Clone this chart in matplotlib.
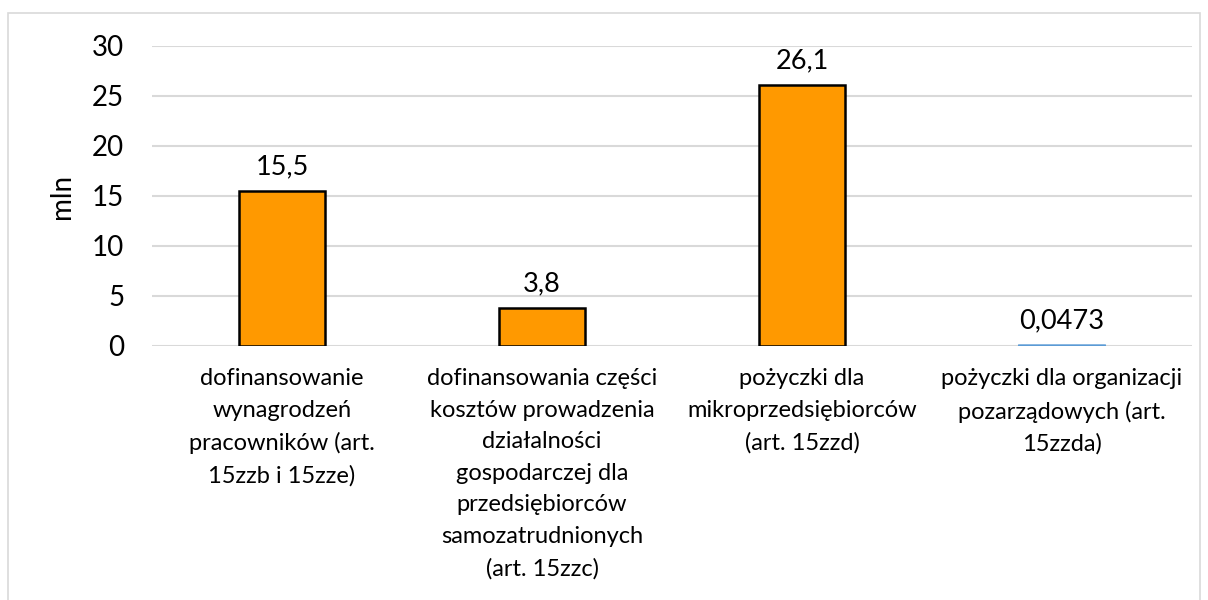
import matplotlib.pyplot as plt
from matplotlib.patches import Rectangle

plt.rcParams['font.family'] = ['Lato', 'DejaVu Sans']

# --- data ---
categories = [
    "dofinansowanie\nwynagrodzeń\npracowników (art.\n15zzb i 15zze)",
    "dofinansowania części\nkosztów prowadzenia\ndziałalności\ngospodarczej dla\nprzedsiębiorców\nsamozatrudnionych\n(art. 15zzc)",
    "pożyczki dla\nmikroprzedsiębiorców\n(art. 15zzd)",
    "pożyczki dla organizacji\npozarządowych (art.\n15zzda)",
]
values = [15.5, 3.8, 26.1, 0.0473]
value_labels = ["15,5", "3,8", "26,1", "0,0473"]
bar_colors = ["#FF9900", "#FF9900", "#FF9900", "#5B9BD5"]
edge_colors = ["black", "black", "black", "#5B9BD5"]
edge_widths = [1.8, 1.8, 1.8, 1.6]
y_ticks = [0, 5, 10, 15, 20, 25, 30]

fig = plt.figure(figsize=(12.08, 6.0), dpi=100)
W, H = 1208, 600

# outer chart border
fig.patches.append(Rectangle((8 / W, -0.05), (1200 - 8) / W, 1.05 - 13 / H,
                             transform=fig.transFigure, fill=False,
                             edgecolor="#d9d9d9", linewidth=1.2))

ax = fig.add_axes([152 / W, 1 - 346 / H, (1192 - 152) / W, 300 / H])

x = range(len(categories))
bars = ax.bar(x, values, width=0.33, color=bar_colors, edgecolor=edge_colors,
              linewidth=edge_widths, zorder=3)
bars[3].set_snap(False)
bars[3].set_zorder(4)

for xi, v, lab in zip(x, values, value_labels):
    ax.text(xi, v + 1.2, lab, ha="center", va="bottom", fontsize=19.5)

ax.set_xlim(-0.5, 3.5)
ax.set_ylim(0, 30)
ax.set_yticks(y_ticks)
ax.set_yticklabels([str(t) for t in y_ticks], fontsize=20)
ax.set_xticks(list(x))
ax.set_xticklabels(categories, fontsize=17, linespacing=1.62, va="top")
ax.tick_params(axis="both", length=0)
ax.tick_params(axis="x", pad=16)
ax.tick_params(axis="y", pad=20)

ax.grid(axis="y", color="#d9d9d9", linewidth=1.5, zorder=0)
ax.set_axisbelow(True)
for s in ax.spines.values():
    s.set_visible(False)

ax.set_ylabel("mln", fontsize=20, labelpad=12)

fig.savefig("out.png", dpi=100)
